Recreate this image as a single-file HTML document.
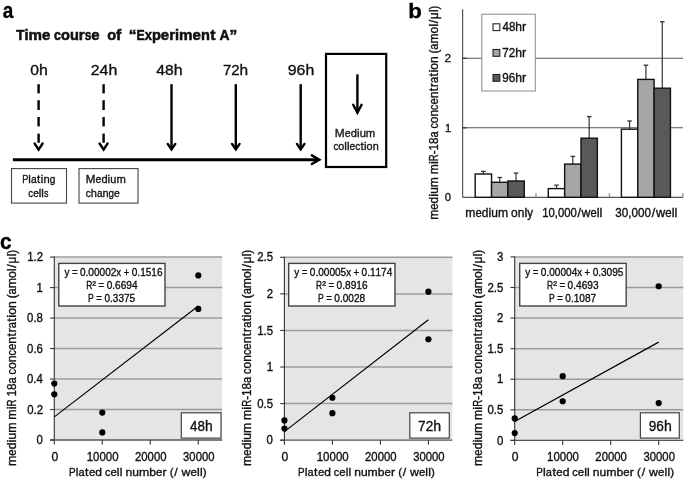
<!DOCTYPE html>
<html><head><meta charset="utf-8"><style>
html,body{margin:0;padding:0;background:#fff;}
body{width:685px;height:479px;overflow:hidden;}
svg{display:block;will-change:transform;font-family:"Liberation Sans",sans-serif;font-kerning:none;}
text{white-space:pre;stroke:#111;stroke-width:0.35px;}
</style></head><body>
<svg width="685" height="479" viewBox="0 0 685 479">
<rect width="685" height="479" fill="#fff"/>
<text y="18.20" font-size="21.50" font-weight="bold" fill="#000"><tspan x="2.75" textLength="10.53" lengthAdjust="spacingAndGlyphs">a</tspan></text>
<text y="40.00" font-size="14.80" font-weight="bold" style="stroke-width:0.55px" fill="#111"><tspan x="16.25" textLength="8.21" lengthAdjust="spacingAndGlyphs">T</tspan><tspan x="24.46" textLength="4.07" lengthAdjust="spacingAndGlyphs">i</tspan><tspan x="28.53" textLength="13.48" lengthAdjust="spacingAndGlyphs">m</tspan><tspan x="42.02" textLength="8.36" lengthAdjust="spacingAndGlyphs">e</tspan><tspan x="54.12" textLength="6.92" lengthAdjust="spacingAndGlyphs">c</tspan><tspan x="61.04" textLength="8.91" lengthAdjust="spacingAndGlyphs">o</tspan><tspan x="69.95" textLength="8.91" lengthAdjust="spacingAndGlyphs">u</tspan><tspan x="78.85" textLength="5.90" lengthAdjust="spacingAndGlyphs">r</tspan><tspan x="84.75" textLength="6.62" lengthAdjust="spacingAndGlyphs">s</tspan><tspan x="91.36" textLength="8.36" lengthAdjust="spacingAndGlyphs">e</tspan><tspan x="107.22" textLength="8.91" lengthAdjust="spacingAndGlyphs">o</tspan><tspan x="116.14" textLength="5.22" lengthAdjust="spacingAndGlyphs">f</tspan><tspan x="128.87" textLength="7.73" lengthAdjust="spacingAndGlyphs">“</tspan><tspan x="136.60" textLength="8.10" lengthAdjust="spacingAndGlyphs">E</tspan><tspan x="144.70" textLength="7.22" lengthAdjust="spacingAndGlyphs">x</tspan><tspan x="151.91" textLength="8.91" lengthAdjust="spacingAndGlyphs">p</tspan><tspan x="160.82" textLength="8.36" lengthAdjust="spacingAndGlyphs">e</tspan><tspan x="169.17" textLength="5.90" lengthAdjust="spacingAndGlyphs">r</tspan><tspan x="175.07" textLength="4.07" lengthAdjust="spacingAndGlyphs">i</tspan><tspan x="179.14" textLength="13.48" lengthAdjust="spacingAndGlyphs">m</tspan><tspan x="192.63" textLength="8.36" lengthAdjust="spacingAndGlyphs">e</tspan><tspan x="200.98" textLength="8.91" lengthAdjust="spacingAndGlyphs">n</tspan><tspan x="210.15" textLength="5.22" lengthAdjust="spacingAndGlyphs">t</tspan><tspan x="219.39" textLength="10.03" lengthAdjust="spacingAndGlyphs">A</tspan><tspan x="229.42" textLength="7.73" lengthAdjust="spacingAndGlyphs">”</tspan></text>
<text y="74.70" font-size="15.00" fill="#111"><tspan x="30.29" textLength="8.72" lengthAdjust="spacingAndGlyphs">0</tspan><tspan x="39.11" textLength="8.84" lengthAdjust="spacingAndGlyphs">h</tspan></text>
<text y="74.70" font-size="15.00" fill="#111"><tspan x="90.70" textLength="8.81" lengthAdjust="spacingAndGlyphs">2</tspan><tspan x="99.52" textLength="8.81" lengthAdjust="spacingAndGlyphs">4</tspan><tspan x="108.48" textLength="8.84" lengthAdjust="spacingAndGlyphs">h</tspan></text>
<text y="74.70" font-size="15.00" fill="#111"><tspan x="156.24" textLength="8.73" lengthAdjust="spacingAndGlyphs">4</tspan><tspan x="164.97" textLength="8.73" lengthAdjust="spacingAndGlyphs">8</tspan><tspan x="173.81" textLength="8.84" lengthAdjust="spacingAndGlyphs">h</tspan></text>
<text y="74.70" font-size="15.00" fill="#111"><tspan x="222.94" textLength="8.29" lengthAdjust="spacingAndGlyphs">7</tspan><tspan x="231.22" textLength="8.29" lengthAdjust="spacingAndGlyphs">2</tspan><tspan x="239.51" textLength="8.59" lengthAdjust="spacingAndGlyphs">h</tspan></text>
<text y="74.70" font-size="15.00" fill="#111"><tspan x="287.68" textLength="8.84" lengthAdjust="spacingAndGlyphs">9</tspan><tspan x="296.58" textLength="8.84" lengthAdjust="spacingAndGlyphs">6</tspan><tspan x="305.64" textLength="8.84" lengthAdjust="spacingAndGlyphs">h</tspan></text>
<line x1="38.60" y1="84.20" x2="38.60" y2="93.40" stroke="#000" stroke-width="2.40"/>
<line x1="38.60" y1="100.20" x2="38.60" y2="110.00" stroke="#000" stroke-width="2.40"/>
<line x1="38.60" y1="117.00" x2="38.60" y2="126.40" stroke="#000" stroke-width="2.40"/>
<line x1="38.60" y1="133.60" x2="38.60" y2="142.80" stroke="#000" stroke-width="2.40"/>
<path d="M34.60 143.50 L38.60 149.60 L42.60 143.50" stroke="#000" stroke-width="2.40" fill="none" stroke-linecap="round"/>
<line x1="103.60" y1="84.20" x2="103.60" y2="93.40" stroke="#000" stroke-width="2.40"/>
<line x1="103.60" y1="100.20" x2="103.60" y2="110.00" stroke="#000" stroke-width="2.40"/>
<line x1="103.60" y1="117.00" x2="103.60" y2="126.40" stroke="#000" stroke-width="2.40"/>
<line x1="103.60" y1="133.60" x2="103.60" y2="142.80" stroke="#000" stroke-width="2.40"/>
<path d="M99.60 143.50 L103.60 149.60 L107.60 143.50" stroke="#000" stroke-width="2.40" fill="none" stroke-linecap="round"/>
<line x1="171.50" y1="84.20" x2="171.50" y2="149.00" stroke="#000" stroke-width="2.40"/>
<path d="M167.70 143.90 L171.50 149.40 L175.30 143.90" stroke="#000" stroke-width="2.40" fill="none" stroke-linecap="round"/>
<line x1="235.80" y1="84.20" x2="235.80" y2="149.00" stroke="#000" stroke-width="2.40"/>
<path d="M232.00 143.90 L235.80 149.40 L239.60 143.90" stroke="#000" stroke-width="2.40" fill="none" stroke-linecap="round"/>
<line x1="300.70" y1="84.20" x2="300.70" y2="149.00" stroke="#000" stroke-width="2.40"/>
<path d="M296.90 143.90 L300.70 149.40 L304.50 143.90" stroke="#000" stroke-width="2.40" fill="none" stroke-linecap="round"/>
<line x1="12.90" y1="159.70" x2="318.00" y2="159.70" stroke="#000" stroke-width="2.90"/>
<path d="M311.9 155.4 L319.2 159.7 L311.9 164.0" stroke="#000" stroke-width="2.50" fill="none" stroke-linecap="round"/>
<rect x="326.00" y="53.90" width="60.20" height="113.10" fill="none" stroke="#000" stroke-width="2.20"/>
<line x1="357.40" y1="74.40" x2="357.40" y2="112.00" stroke="#000" stroke-width="2.40"/>
<path d="M353.2 104.8 L357.4 112.6 L361.6 104.8" stroke="#000" stroke-width="2.40" fill="none" stroke-linecap="round"/>
<text y="136.80" font-size="11.20" fill="#222"><tspan x="334.82" textLength="9.89" lengthAdjust="spacingAndGlyphs">M</tspan><tspan x="344.83" textLength="5.89" lengthAdjust="spacingAndGlyphs">e</tspan><tspan x="350.72" textLength="6.22" lengthAdjust="spacingAndGlyphs">d</tspan><tspan x="356.99" textLength="2.64" lengthAdjust="spacingAndGlyphs">i</tspan><tspan x="359.66" textLength="6.22" lengthAdjust="spacingAndGlyphs">u</tspan><tspan x="365.89" textLength="9.46" lengthAdjust="spacingAndGlyphs">m</tspan></text>
<text y="149.90" font-size="11.20" fill="#222"><tspan x="333.39" textLength="4.86" lengthAdjust="spacingAndGlyphs">c</tspan><tspan x="338.24" textLength="6.05" lengthAdjust="spacingAndGlyphs">o</tspan><tspan x="344.30" textLength="2.64" lengthAdjust="spacingAndGlyphs">l</tspan><tspan x="346.93" textLength="2.64" lengthAdjust="spacingAndGlyphs">l</tspan><tspan x="349.57" textLength="5.71" lengthAdjust="spacingAndGlyphs">e</tspan><tspan x="355.28" textLength="4.86" lengthAdjust="spacingAndGlyphs">c</tspan><tspan x="360.41" textLength="3.30" lengthAdjust="spacingAndGlyphs">t</tspan><tspan x="363.98" textLength="2.64" lengthAdjust="spacingAndGlyphs">i</tspan><tspan x="366.62" textLength="6.05" lengthAdjust="spacingAndGlyphs">o</tspan><tspan x="372.67" textLength="6.03" lengthAdjust="spacingAndGlyphs">n</tspan></text>
<rect x="11.50" y="168.60" width="55.00" height="34.50" fill="#fff" stroke="#444" stroke-width="1.10"/>
<rect x="79.00" y="168.60" width="59.00" height="34.50" fill="#fff" stroke="#444" stroke-width="1.10"/>
<text y="182.50" font-size="11.00" fill="#222"><tspan x="22.14" textLength="6.14" lengthAdjust="spacingAndGlyphs">P</tspan><tspan x="28.35" textLength="2.59" lengthAdjust="spacingAndGlyphs">l</tspan><tspan x="31.01" textLength="5.69" lengthAdjust="spacingAndGlyphs">a</tspan><tspan x="37.07" textLength="3.24" lengthAdjust="spacingAndGlyphs">t</tspan><tspan x="40.75" textLength="2.59" lengthAdjust="spacingAndGlyphs">i</tspan><tspan x="43.41" textLength="6.24" lengthAdjust="spacingAndGlyphs">n</tspan><tspan x="49.65" textLength="5.59" lengthAdjust="spacingAndGlyphs">g</tspan></text>
<text y="196.50" font-size="11.00" fill="#222"><tspan x="28.34" textLength="4.80" lengthAdjust="spacingAndGlyphs">c</tspan><tspan x="33.14" textLength="5.64" lengthAdjust="spacingAndGlyphs">e</tspan><tspan x="38.79" textLength="2.59" lengthAdjust="spacingAndGlyphs">l</tspan><tspan x="41.39" textLength="2.59" lengthAdjust="spacingAndGlyphs">l</tspan><tspan x="43.99" textLength="4.44" lengthAdjust="spacingAndGlyphs">s</tspan></text>
<text y="182.50" font-size="11.00" fill="#222"><tspan x="85.76" textLength="9.71" lengthAdjust="spacingAndGlyphs">M</tspan><tspan x="95.61" textLength="5.82" lengthAdjust="spacingAndGlyphs">e</tspan><tspan x="101.43" textLength="6.14" lengthAdjust="spacingAndGlyphs">d</tspan><tspan x="107.62" textLength="2.59" lengthAdjust="spacingAndGlyphs">i</tspan><tspan x="110.26" textLength="6.14" lengthAdjust="spacingAndGlyphs">u</tspan><tspan x="116.40" textLength="9.34" lengthAdjust="spacingAndGlyphs">m</tspan></text>
<text y="196.50" font-size="11.00" fill="#222"><tspan x="85.83" textLength="4.93" lengthAdjust="spacingAndGlyphs">c</tspan><tspan x="90.76" textLength="6.12" lengthAdjust="spacingAndGlyphs">h</tspan><tspan x="96.88" textLength="5.58" lengthAdjust="spacingAndGlyphs">a</tspan><tspan x="102.46" textLength="6.12" lengthAdjust="spacingAndGlyphs">n</tspan><tspan x="108.58" textLength="5.48" lengthAdjust="spacingAndGlyphs">g</tspan><tspan x="114.07" textLength="5.80" lengthAdjust="spacingAndGlyphs">e</tspan></text>
<text y="18.40" font-size="21.00" font-weight="bold" fill="#000"><tspan x="408.23" textLength="13.58" lengthAdjust="spacingAndGlyphs">b</tspan></text>
<text transform="translate(437.90 219.00) rotate(-90)" y="0.00" font-size="12.20" fill="#111"><tspan x="-0.81" textLength="10.12" lengthAdjust="spacingAndGlyphs">m</tspan><tspan x="9.31" textLength="6.30" lengthAdjust="spacingAndGlyphs">e</tspan><tspan x="15.62" textLength="6.66" lengthAdjust="spacingAndGlyphs">d</tspan><tspan x="22.29" textLength="2.87" lengthAdjust="spacingAndGlyphs">i</tspan><tspan x="25.18" textLength="6.66" lengthAdjust="spacingAndGlyphs">u</tspan><tspan x="31.84" textLength="10.12" lengthAdjust="spacingAndGlyphs">m</tspan><tspan x="44.83" textLength="10.12" lengthAdjust="spacingAndGlyphs">m</tspan><tspan x="54.97" textLength="2.87" lengthAdjust="spacingAndGlyphs">i</tspan><tspan x="57.86" textLength="6.88" lengthAdjust="spacingAndGlyphs">R</tspan><tspan x="64.74" textLength="3.88" lengthAdjust="spacingAndGlyphs">-</tspan><tspan x="68.61" textLength="6.42" lengthAdjust="spacingAndGlyphs">1</tspan><tspan x="75.04" textLength="6.42" lengthAdjust="spacingAndGlyphs">8</tspan><tspan x="81.46" textLength="6.07" lengthAdjust="spacingAndGlyphs">a</tspan><tspan x="90.39" textLength="5.36" lengthAdjust="spacingAndGlyphs">c</tspan><tspan x="95.75" textLength="6.68" lengthAdjust="spacingAndGlyphs">o</tspan><tspan x="102.43" textLength="6.66" lengthAdjust="spacingAndGlyphs">n</tspan><tspan x="109.09" textLength="5.36" lengthAdjust="spacingAndGlyphs">c</tspan><tspan x="114.45" textLength="6.30" lengthAdjust="spacingAndGlyphs">e</tspan><tspan x="120.75" textLength="6.66" lengthAdjust="spacingAndGlyphs">n</tspan><tspan x="127.73" textLength="3.59" lengthAdjust="spacingAndGlyphs">t</tspan><tspan x="131.71" textLength="4.31" lengthAdjust="spacingAndGlyphs">r</tspan><tspan x="136.07" textLength="6.07" lengthAdjust="spacingAndGlyphs">a</tspan><tspan x="142.46" textLength="3.59" lengthAdjust="spacingAndGlyphs">t</tspan><tspan x="146.40" textLength="2.87" lengthAdjust="spacingAndGlyphs">i</tspan><tspan x="149.29" textLength="6.68" lengthAdjust="spacingAndGlyphs">o</tspan><tspan x="155.97" textLength="6.66" lengthAdjust="spacingAndGlyphs">n</tspan><tspan x="165.49" textLength="3.84" lengthAdjust="spacingAndGlyphs">(</tspan><tspan x="169.33" textLength="6.07" lengthAdjust="spacingAndGlyphs">a</tspan><tspan x="175.40" textLength="10.12" lengthAdjust="spacingAndGlyphs">m</tspan><tspan x="185.53" textLength="6.68" lengthAdjust="spacingAndGlyphs">o</tspan><tspan x="192.22" textLength="2.87" lengthAdjust="spacingAndGlyphs">l</tspan><tspan x="195.77" textLength="3.59" lengthAdjust="spacingAndGlyphs">/</tspan><tspan x="200.01" textLength="6.66" lengthAdjust="spacingAndGlyphs">μ</tspan><tspan x="206.68" textLength="2.87" lengthAdjust="spacingAndGlyphs">l</tspan><tspan x="209.57" textLength="3.84" lengthAdjust="spacingAndGlyphs">)</tspan></text>
<line x1="462.60" y1="127.80" x2="683.00" y2="127.80" stroke="#555" stroke-width="1.10"/>
<line x1="462.60" y1="58.30" x2="683.00" y2="58.30" stroke="#555" stroke-width="1.10"/>
<line x1="462.60" y1="9.30" x2="462.60" y2="197.30" stroke="#555" stroke-width="1.20"/>
<line x1="462.60" y1="197.30" x2="683.00" y2="197.30" stroke="#555" stroke-width="1.20"/>
<line x1="536.00" y1="193.30" x2="536.00" y2="197.30" stroke="#888" stroke-width="1.30"/>
<line x1="609.40" y1="193.30" x2="609.40" y2="197.30" stroke="#888" stroke-width="1.30"/>
<line x1="682.90" y1="193.30" x2="682.90" y2="197.30" stroke="#888" stroke-width="1.30"/>
<line x1="462.60" y1="127.80" x2="466.80" y2="127.80" stroke="#333" stroke-width="1.20"/>
<line x1="462.60" y1="58.30" x2="466.80" y2="58.30" stroke="#333" stroke-width="1.20"/>
<text y="201.30" font-size="11.50" fill="#222"><tspan x="444.76" textLength="6.28" lengthAdjust="spacingAndGlyphs">0</tspan></text>
<text y="131.80" font-size="11.50" fill="#222"><tspan x="444.95" textLength="6.19" lengthAdjust="spacingAndGlyphs">1</tspan></text>
<text y="62.30" font-size="11.50" fill="#222"><tspan x="444.60" textLength="6.59" lengthAdjust="spacingAndGlyphs">2</tspan></text>
<line x1="483.38" y1="171.40" x2="483.38" y2="174.00" stroke="#333" stroke-width="1.20"/>
<line x1="481.07" y1="171.40" x2="485.68" y2="171.40" stroke="#333" stroke-width="1.30"/>
<line x1="499.73" y1="177.50" x2="499.73" y2="182.30" stroke="#333" stroke-width="1.20"/>
<line x1="497.43" y1="177.50" x2="502.03" y2="177.50" stroke="#333" stroke-width="1.30"/>
<line x1="516.07" y1="173.10" x2="516.07" y2="181.00" stroke="#333" stroke-width="1.20"/>
<line x1="513.77" y1="173.10" x2="518.37" y2="173.10" stroke="#333" stroke-width="1.30"/>
<rect x="475.20" y="174.00" width="16.35" height="23.30" fill="#ffffff" stroke="#111" stroke-width="1.40"/>
<rect x="491.55" y="182.30" width="16.35" height="15.00" fill="#a6a6a6" stroke="#111" stroke-width="1.40"/>
<rect x="507.90" y="181.00" width="16.35" height="16.30" fill="#595959" stroke="#111" stroke-width="1.40"/>
<line x1="556.47" y1="185.20" x2="556.47" y2="188.60" stroke="#333" stroke-width="1.20"/>
<line x1="554.17" y1="185.20" x2="558.77" y2="185.20" stroke="#333" stroke-width="1.30"/>
<line x1="572.82" y1="156.40" x2="572.82" y2="164.10" stroke="#333" stroke-width="1.20"/>
<line x1="570.52" y1="156.40" x2="575.12" y2="156.40" stroke="#333" stroke-width="1.30"/>
<line x1="589.17" y1="116.60" x2="589.17" y2="138.20" stroke="#333" stroke-width="1.20"/>
<line x1="586.88" y1="116.60" x2="591.47" y2="116.60" stroke="#333" stroke-width="1.30"/>
<rect x="548.30" y="188.60" width="16.35" height="8.70" fill="#ffffff" stroke="#111" stroke-width="1.40"/>
<rect x="564.65" y="164.10" width="16.35" height="33.20" fill="#a6a6a6" stroke="#111" stroke-width="1.40"/>
<rect x="581.00" y="138.20" width="16.35" height="59.10" fill="#595959" stroke="#111" stroke-width="1.40"/>
<line x1="629.57" y1="121.00" x2="629.57" y2="129.20" stroke="#333" stroke-width="1.20"/>
<line x1="627.27" y1="121.00" x2="631.87" y2="121.00" stroke="#333" stroke-width="1.30"/>
<line x1="645.92" y1="65.20" x2="645.92" y2="79.40" stroke="#333" stroke-width="1.20"/>
<line x1="643.62" y1="65.20" x2="648.22" y2="65.20" stroke="#333" stroke-width="1.30"/>
<line x1="662.27" y1="21.80" x2="662.27" y2="88.20" stroke="#333" stroke-width="1.20"/>
<line x1="659.98" y1="21.80" x2="664.57" y2="21.80" stroke="#333" stroke-width="1.30"/>
<rect x="621.40" y="129.20" width="16.35" height="68.10" fill="#ffffff" stroke="#111" stroke-width="1.40"/>
<rect x="637.75" y="79.40" width="16.35" height="117.90" fill="#a6a6a6" stroke="#111" stroke-width="1.40"/>
<rect x="654.10" y="88.20" width="16.35" height="109.10" fill="#595959" stroke="#111" stroke-width="1.40"/>
<rect x="481.80" y="14.20" width="53.50" height="76.80" fill="#fff" stroke="#8a8a8a" stroke-width="1.00"/>
<rect x="493.00" y="23.80" width="6.80" height="6.80" fill="#ffffff" stroke="#222" stroke-width="1.10"/>
<text y="31.20" font-size="12.00" fill="#111"><tspan x="502.54" textLength="6.41" lengthAdjust="spacingAndGlyphs">4</tspan><tspan x="508.95" textLength="6.41" lengthAdjust="spacingAndGlyphs">8</tspan><tspan x="515.36" textLength="6.65" lengthAdjust="spacingAndGlyphs">h</tspan><tspan x="522.10" textLength="4.24" lengthAdjust="spacingAndGlyphs">r</tspan></text>
<rect x="493.00" y="49.50" width="6.80" height="6.80" fill="#a6a6a6" stroke="#222" stroke-width="1.10"/>
<text y="56.60" font-size="12.00" fill="#111"><tspan x="502.20" textLength="6.50" lengthAdjust="spacingAndGlyphs">7</tspan><tspan x="508.70" textLength="6.50" lengthAdjust="spacingAndGlyphs">2</tspan><tspan x="515.21" textLength="6.74" lengthAdjust="spacingAndGlyphs">h</tspan><tspan x="522.07" textLength="4.24" lengthAdjust="spacingAndGlyphs">r</tspan></text>
<rect x="493.00" y="74.50" width="6.80" height="6.80" fill="#595959" stroke="#222" stroke-width="1.10"/>
<text y="82.00" font-size="12.00" fill="#111"><tspan x="502.25" textLength="6.49" lengthAdjust="spacingAndGlyphs">9</tspan><tspan x="508.74" textLength="6.49" lengthAdjust="spacingAndGlyphs">6</tspan><tspan x="515.23" textLength="6.73" lengthAdjust="spacingAndGlyphs">h</tspan><tspan x="522.07" textLength="4.24" lengthAdjust="spacingAndGlyphs">r</tspan></text>
<text y="217.30" font-size="12.00" fill="#111"><tspan x="465.29" textLength="10.14" lengthAdjust="spacingAndGlyphs">m</tspan><tspan x="475.43" textLength="6.32" lengthAdjust="spacingAndGlyphs">e</tspan><tspan x="481.75" textLength="6.67" lengthAdjust="spacingAndGlyphs">d</tspan><tspan x="488.46" textLength="2.83" lengthAdjust="spacingAndGlyphs">i</tspan><tspan x="491.33" textLength="6.67" lengthAdjust="spacingAndGlyphs">u</tspan><tspan x="498.00" textLength="10.14" lengthAdjust="spacingAndGlyphs">m</tspan><tspan x="511.00" textLength="6.69" lengthAdjust="spacingAndGlyphs">o</tspan><tspan x="517.70" textLength="6.67" lengthAdjust="spacingAndGlyphs">n</tspan><tspan x="524.41" textLength="2.83" lengthAdjust="spacingAndGlyphs">l</tspan><tspan x="527.28" textLength="5.74" lengthAdjust="spacingAndGlyphs">y</tspan></text>
<text y="217.30" font-size="12.00" fill="#111"><tspan x="542.14" textLength="6.32" lengthAdjust="spacingAndGlyphs">1</tspan><tspan x="548.45" textLength="6.32" lengthAdjust="spacingAndGlyphs">0</tspan><tspan x="554.77" textLength="3.11" lengthAdjust="spacingAndGlyphs">,</tspan><tspan x="557.88" textLength="6.32" lengthAdjust="spacingAndGlyphs">0</tspan><tspan x="564.19" textLength="6.32" lengthAdjust="spacingAndGlyphs">0</tspan><tspan x="570.51" textLength="6.32" lengthAdjust="spacingAndGlyphs">0</tspan><tspan x="577.46" textLength="3.53" lengthAdjust="spacingAndGlyphs">/</tspan><tspan x="581.63" textLength="8.91" lengthAdjust="spacingAndGlyphs">w</tspan><tspan x="590.54" textLength="6.20" lengthAdjust="spacingAndGlyphs">e</tspan><tspan x="596.76" textLength="2.83" lengthAdjust="spacingAndGlyphs">l</tspan><tspan x="599.62" textLength="2.83" lengthAdjust="spacingAndGlyphs">l</tspan></text>
<text y="217.30" font-size="12.00" fill="#111"><tspan x="615.35" textLength="6.50" lengthAdjust="spacingAndGlyphs">3</tspan><tspan x="621.86" textLength="6.50" lengthAdjust="spacingAndGlyphs">0</tspan><tspan x="628.36" textLength="3.20" lengthAdjust="spacingAndGlyphs">,</tspan><tspan x="631.57" textLength="6.50" lengthAdjust="spacingAndGlyphs">0</tspan><tspan x="638.07" textLength="6.50" lengthAdjust="spacingAndGlyphs">0</tspan><tspan x="644.58" textLength="6.50" lengthAdjust="spacingAndGlyphs">0</tspan><tspan x="651.79" textLength="3.53" lengthAdjust="spacingAndGlyphs">/</tspan><tspan x="656.04" textLength="9.17" lengthAdjust="spacingAndGlyphs">w</tspan><tspan x="665.21" textLength="6.39" lengthAdjust="spacingAndGlyphs">e</tspan><tspan x="671.66" textLength="2.83" lengthAdjust="spacingAndGlyphs">l</tspan><tspan x="674.60" textLength="2.83" lengthAdjust="spacingAndGlyphs">l</tspan></text>
<text y="249.00" font-size="22.00" font-weight="bold" fill="#000"><tspan x="-0.02" textLength="11.63" lengthAdjust="spacingAndGlyphs">c</tspan></text>
<rect x="54.30" y="257.10" width="167.90" height="182.90" fill="#e5e5e5" stroke="none" stroke-width="1.00"/>
<line x1="54.30" y1="409.52" x2="222.20" y2="409.52" stroke="#9c9c9c" stroke-width="1.50"/>
<line x1="54.30" y1="379.03" x2="222.20" y2="379.03" stroke="#9c9c9c" stroke-width="1.50"/>
<line x1="54.30" y1="348.55" x2="222.20" y2="348.55" stroke="#9c9c9c" stroke-width="1.50"/>
<line x1="54.30" y1="318.07" x2="222.20" y2="318.07" stroke="#9c9c9c" stroke-width="1.50"/>
<line x1="54.30" y1="287.58" x2="222.20" y2="287.58" stroke="#9c9c9c" stroke-width="1.50"/>
<line x1="54.30" y1="257.10" x2="222.20" y2="257.10" stroke="#9c9c9c" stroke-width="1.50"/>
<line x1="54.30" y1="256.60" x2="54.30" y2="444.50" stroke="#333" stroke-width="1.10"/>
<line x1="50.10" y1="440.00" x2="222.20" y2="440.00" stroke="#555" stroke-width="1.30"/>
<line x1="50.10" y1="440.00" x2="54.30" y2="440.00" stroke="#333" stroke-width="1.10"/>
<line x1="50.10" y1="409.52" x2="54.30" y2="409.52" stroke="#333" stroke-width="1.10"/>
<line x1="50.10" y1="379.03" x2="54.30" y2="379.03" stroke="#333" stroke-width="1.10"/>
<line x1="50.10" y1="348.55" x2="54.30" y2="348.55" stroke="#333" stroke-width="1.10"/>
<line x1="50.10" y1="318.07" x2="54.30" y2="318.07" stroke="#333" stroke-width="1.10"/>
<line x1="50.10" y1="287.58" x2="54.30" y2="287.58" stroke="#333" stroke-width="1.10"/>
<line x1="50.10" y1="257.10" x2="54.30" y2="257.10" stroke="#333" stroke-width="1.10"/>
<line x1="102.30" y1="440.00" x2="102.30" y2="444.50" stroke="#333" stroke-width="1.10"/>
<line x1="150.30" y1="440.00" x2="150.30" y2="444.50" stroke="#333" stroke-width="1.10"/>
<line x1="198.30" y1="440.00" x2="198.30" y2="444.50" stroke="#333" stroke-width="1.10"/>
<text y="444.10" font-size="12.00" fill="#111"><tspan x="36.51" textLength="6.34" lengthAdjust="spacingAndGlyphs">0</tspan></text>
<text y="413.62" font-size="12.00" fill="#111"><tspan x="27.13" textLength="6.34" lengthAdjust="spacingAndGlyphs">0</tspan><tspan x="33.47" textLength="3.16" lengthAdjust="spacingAndGlyphs">.</tspan><tspan x="36.63" textLength="6.34" lengthAdjust="spacingAndGlyphs">2</tspan></text>
<text y="383.13" font-size="12.00" fill="#111"><tspan x="26.89" textLength="6.34" lengthAdjust="spacingAndGlyphs">0</tspan><tspan x="33.23" textLength="3.16" lengthAdjust="spacingAndGlyphs">.</tspan><tspan x="36.39" textLength="6.34" lengthAdjust="spacingAndGlyphs">4</tspan></text>
<text y="352.65" font-size="12.00" fill="#111"><tspan x="27.05" textLength="6.34" lengthAdjust="spacingAndGlyphs">0</tspan><tspan x="33.40" textLength="3.16" lengthAdjust="spacingAndGlyphs">.</tspan><tspan x="36.56" textLength="6.34" lengthAdjust="spacingAndGlyphs">6</tspan></text>
<text y="322.17" font-size="12.00" fill="#111"><tspan x="27.05" textLength="6.34" lengthAdjust="spacingAndGlyphs">0</tspan><tspan x="33.39" textLength="3.16" lengthAdjust="spacingAndGlyphs">.</tspan><tspan x="36.55" textLength="6.34" lengthAdjust="spacingAndGlyphs">8</tspan></text>
<text y="291.68" font-size="12.00" fill="#111"><tspan x="36.62" textLength="6.34" lengthAdjust="spacingAndGlyphs">1</tspan></text>
<text y="261.20" font-size="12.00" fill="#111"><tspan x="27.13" textLength="6.34" lengthAdjust="spacingAndGlyphs">1</tspan><tspan x="33.47" textLength="3.16" lengthAdjust="spacingAndGlyphs">.</tspan><tspan x="36.63" textLength="6.34" lengthAdjust="spacingAndGlyphs">2</tspan></text>
<text y="460.90" font-size="12.00" fill="#111"><tspan x="51.43" textLength="6.75" lengthAdjust="spacingAndGlyphs">0</tspan></text>
<text y="460.90" font-size="12.00" fill="#111"><tspan x="86.63" textLength="6.38" lengthAdjust="spacingAndGlyphs">1</tspan><tspan x="93.01" textLength="6.38" lengthAdjust="spacingAndGlyphs">0</tspan><tspan x="99.39" textLength="6.38" lengthAdjust="spacingAndGlyphs">0</tspan><tspan x="105.78" textLength="6.38" lengthAdjust="spacingAndGlyphs">0</tspan><tspan x="112.16" textLength="6.38" lengthAdjust="spacingAndGlyphs">0</tspan></text>
<text y="460.90" font-size="12.00" fill="#111"><tspan x="134.93" textLength="6.32" lengthAdjust="spacingAndGlyphs">2</tspan><tspan x="141.25" textLength="6.32" lengthAdjust="spacingAndGlyphs">0</tspan><tspan x="147.57" textLength="6.32" lengthAdjust="spacingAndGlyphs">0</tspan><tspan x="153.90" textLength="6.32" lengthAdjust="spacingAndGlyphs">0</tspan><tspan x="160.22" textLength="6.32" lengthAdjust="spacingAndGlyphs">0</tspan></text>
<text y="460.90" font-size="12.00" fill="#111"><tspan x="183.07" textLength="6.29" lengthAdjust="spacingAndGlyphs">3</tspan><tspan x="189.36" textLength="6.29" lengthAdjust="spacingAndGlyphs">0</tspan><tspan x="195.66" textLength="6.29" lengthAdjust="spacingAndGlyphs">0</tspan><tspan x="201.95" textLength="6.29" lengthAdjust="spacingAndGlyphs">0</tspan><tspan x="208.25" textLength="6.29" lengthAdjust="spacingAndGlyphs">0</tspan></text>
<text y="475.50" font-size="11.60" fill="#111"><tspan x="68.99" textLength="6.62" lengthAdjust="spacingAndGlyphs">P</tspan><tspan x="75.71" textLength="2.73" lengthAdjust="spacingAndGlyphs">l</tspan><tspan x="78.54" textLength="6.14" lengthAdjust="spacingAndGlyphs">a</tspan><tspan x="85.12" textLength="3.42" lengthAdjust="spacingAndGlyphs">t</tspan><tspan x="88.97" textLength="6.37" lengthAdjust="spacingAndGlyphs">e</tspan><tspan x="95.35" textLength="6.73" lengthAdjust="spacingAndGlyphs">d</tspan><tspan x="104.97" textLength="5.42" lengthAdjust="spacingAndGlyphs">c</tspan><tspan x="110.39" textLength="6.37" lengthAdjust="spacingAndGlyphs">e</tspan><tspan x="116.87" textLength="2.73" lengthAdjust="spacingAndGlyphs">l</tspan><tspan x="119.81" textLength="2.73" lengthAdjust="spacingAndGlyphs">l</tspan><tspan x="125.54" textLength="6.73" lengthAdjust="spacingAndGlyphs">n</tspan><tspan x="132.27" textLength="6.73" lengthAdjust="spacingAndGlyphs">u</tspan><tspan x="139.00" textLength="10.23" lengthAdjust="spacingAndGlyphs">m</tspan><tspan x="149.23" textLength="6.73" lengthAdjust="spacingAndGlyphs">b</tspan><tspan x="155.96" textLength="6.37" lengthAdjust="spacingAndGlyphs">e</tspan><tspan x="162.52" textLength="4.09" lengthAdjust="spacingAndGlyphs">r</tspan><tspan x="169.70" textLength="3.88" lengthAdjust="spacingAndGlyphs">(</tspan><tspan x="174.35" textLength="3.42" lengthAdjust="spacingAndGlyphs">/</tspan><tspan x="181.57" textLength="8.88" lengthAdjust="spacingAndGlyphs">w</tspan><tspan x="190.59" textLength="6.37" lengthAdjust="spacingAndGlyphs">e</tspan><tspan x="197.06" textLength="2.73" lengthAdjust="spacingAndGlyphs">l</tspan><tspan x="200.00" textLength="2.73" lengthAdjust="spacingAndGlyphs">l</tspan><tspan x="202.84" textLength="3.88" lengthAdjust="spacingAndGlyphs">)</tspan></text>
<text transform="translate(16.00 465.10) rotate(-90)" y="0.00" font-size="12.20" fill="#111"><tspan x="-0.82" textLength="10.26" lengthAdjust="spacingAndGlyphs">m</tspan><tspan x="9.44" textLength="6.39" lengthAdjust="spacingAndGlyphs">e</tspan><tspan x="15.83" textLength="6.75" lengthAdjust="spacingAndGlyphs">d</tspan><tspan x="22.62" textLength="2.87" lengthAdjust="spacingAndGlyphs">i</tspan><tspan x="25.53" textLength="6.75" lengthAdjust="spacingAndGlyphs">u</tspan><tspan x="32.28" textLength="10.26" lengthAdjust="spacingAndGlyphs">m</tspan><tspan x="45.44" textLength="10.26" lengthAdjust="spacingAndGlyphs">m</tspan><tspan x="55.74" textLength="2.87" lengthAdjust="spacingAndGlyphs">i</tspan><tspan x="58.65" textLength="6.97" lengthAdjust="spacingAndGlyphs">R</tspan><tspan x="68.53" textLength="6.51" lengthAdjust="spacingAndGlyphs">1</tspan><tspan x="75.04" textLength="6.51" lengthAdjust="spacingAndGlyphs">8</tspan><tspan x="81.55" textLength="6.15" lengthAdjust="spacingAndGlyphs">a</tspan><tspan x="90.61" textLength="5.43" lengthAdjust="spacingAndGlyphs">c</tspan><tspan x="96.04" textLength="6.77" lengthAdjust="spacingAndGlyphs">o</tspan><tspan x="102.81" textLength="6.75" lengthAdjust="spacingAndGlyphs">n</tspan><tspan x="109.56" textLength="5.43" lengthAdjust="spacingAndGlyphs">c</tspan><tspan x="114.99" textLength="6.39" lengthAdjust="spacingAndGlyphs">e</tspan><tspan x="121.38" textLength="6.75" lengthAdjust="spacingAndGlyphs">n</tspan><tspan x="128.49" textLength="3.59" lengthAdjust="spacingAndGlyphs">t</tspan><tspan x="132.52" textLength="4.31" lengthAdjust="spacingAndGlyphs">r</tspan><tspan x="136.91" textLength="6.15" lengthAdjust="spacingAndGlyphs">a</tspan><tspan x="143.42" textLength="3.59" lengthAdjust="spacingAndGlyphs">t</tspan><tspan x="147.41" textLength="2.87" lengthAdjust="spacingAndGlyphs">i</tspan><tspan x="150.32" textLength="6.77" lengthAdjust="spacingAndGlyphs">o</tspan><tspan x="157.09" textLength="6.75" lengthAdjust="spacingAndGlyphs">n</tspan><tspan x="166.74" textLength="3.89" lengthAdjust="spacingAndGlyphs">(</tspan><tspan x="170.64" textLength="6.15" lengthAdjust="spacingAndGlyphs">a</tspan><tspan x="176.79" textLength="10.26" lengthAdjust="spacingAndGlyphs">m</tspan><tspan x="187.05" textLength="6.77" lengthAdjust="spacingAndGlyphs">o</tspan><tspan x="193.86" textLength="2.87" lengthAdjust="spacingAndGlyphs">l</tspan><tspan x="197.46" textLength="3.59" lengthAdjust="spacingAndGlyphs">/</tspan><tspan x="201.73" textLength="6.75" lengthAdjust="spacingAndGlyphs">μ</tspan><tspan x="208.52" textLength="2.87" lengthAdjust="spacingAndGlyphs">l</tspan><tspan x="211.43" textLength="3.89" lengthAdjust="spacingAndGlyphs">)</tspan></text>
<line x1="54.30" y1="416.89" x2="198.30" y2="306.03" stroke="#000" stroke-width="1.20"/>
<circle cx="54.30" cy="383.61" r="3.10" fill="#000"/>
<circle cx="54.30" cy="394.27" r="3.10" fill="#000"/>
<circle cx="102.30" cy="412.56" r="3.10" fill="#000"/>
<circle cx="102.30" cy="432.38" r="3.10" fill="#000"/>
<circle cx="198.30" cy="275.39" r="3.10" fill="#000"/>
<circle cx="198.30" cy="308.92" r="3.10" fill="#000"/>
<rect x="58.80" y="263.40" width="106.20" height="42.60" fill="#fff" stroke="#444" stroke-width="1.40"/>
<text y="275.90" font-size="10.80" fill="#111"><tspan x="64.38" textLength="5.00" lengthAdjust="spacingAndGlyphs">y</tspan><tspan x="71.88" textLength="5.60" lengthAdjust="spacingAndGlyphs">=</tspan><tspan x="79.97" textLength="5.60" lengthAdjust="spacingAndGlyphs">0</tspan><tspan x="85.57" textLength="2.79" lengthAdjust="spacingAndGlyphs">.</tspan><tspan x="88.36" textLength="5.60" lengthAdjust="spacingAndGlyphs">0</tspan><tspan x="93.96" textLength="5.60" lengthAdjust="spacingAndGlyphs">0</tspan><tspan x="99.57" textLength="5.60" lengthAdjust="spacingAndGlyphs">0</tspan><tspan x="105.17" textLength="5.60" lengthAdjust="spacingAndGlyphs">0</tspan><tspan x="110.77" textLength="5.60" lengthAdjust="spacingAndGlyphs">2</tspan><tspan x="116.37" textLength="4.79" lengthAdjust="spacingAndGlyphs">x</tspan><tspan x="123.65" textLength="5.60" lengthAdjust="spacingAndGlyphs">+</tspan><tspan x="131.75" textLength="5.60" lengthAdjust="spacingAndGlyphs">0</tspan><tspan x="137.35" textLength="2.79" lengthAdjust="spacingAndGlyphs">.</tspan><tspan x="140.14" textLength="5.60" lengthAdjust="spacingAndGlyphs">1</tspan><tspan x="145.74" textLength="5.60" lengthAdjust="spacingAndGlyphs">5</tspan><tspan x="151.34" textLength="5.60" lengthAdjust="spacingAndGlyphs">1</tspan><tspan x="156.94" textLength="5.60" lengthAdjust="spacingAndGlyphs">6</tspan></text>
<text y="288.70" font-size="10.80" fill="#111"><tspan x="86.18" textLength="6.08" lengthAdjust="spacingAndGlyphs">R</tspan><tspan x="92.23" textLength="3.79" lengthAdjust="spacingAndGlyphs">²</tspan><tspan x="98.52" textLength="5.61" lengthAdjust="spacingAndGlyphs">=</tspan><tspan x="106.64" textLength="5.61" lengthAdjust="spacingAndGlyphs">0</tspan><tspan x="112.25" textLength="2.80" lengthAdjust="spacingAndGlyphs">.</tspan><tspan x="115.04" textLength="5.61" lengthAdjust="spacingAndGlyphs">6</tspan><tspan x="120.66" textLength="5.61" lengthAdjust="spacingAndGlyphs">6</tspan><tspan x="126.27" textLength="5.61" lengthAdjust="spacingAndGlyphs">9</tspan><tspan x="131.88" textLength="5.61" lengthAdjust="spacingAndGlyphs">4</tspan></text>
<text y="302.00" font-size="10.80" fill="#111"><tspan x="88.10" textLength="5.71" lengthAdjust="spacingAndGlyphs">P</tspan><tspan x="96.31" textLength="5.60" lengthAdjust="spacingAndGlyphs">=</tspan><tspan x="104.41" textLength="5.60" lengthAdjust="spacingAndGlyphs">0</tspan><tspan x="110.02" textLength="2.79" lengthAdjust="spacingAndGlyphs">.</tspan><tspan x="112.81" textLength="5.60" lengthAdjust="spacingAndGlyphs">3</tspan><tspan x="118.41" textLength="5.60" lengthAdjust="spacingAndGlyphs">3</tspan><tspan x="124.02" textLength="5.60" lengthAdjust="spacingAndGlyphs">7</tspan><tspan x="129.62" textLength="5.60" lengthAdjust="spacingAndGlyphs">5</tspan></text>
<rect x="181.30" y="412.80" width="39.70" height="25.30" fill="#fff" stroke="#444" stroke-width="1.20"/>
<text y="430.50" font-size="14.30" fill="#111"><tspan x="189.99" textLength="7.45" lengthAdjust="spacingAndGlyphs">4</tspan><tspan x="197.44" textLength="7.45" lengthAdjust="spacingAndGlyphs">8</tspan><tspan x="204.88" textLength="7.72" lengthAdjust="spacingAndGlyphs">h</tspan></text>
<rect x="284.40" y="257.30" width="168.00" height="182.90" fill="#e5e5e5" stroke="none" stroke-width="1.00"/>
<line x1="284.40" y1="403.62" x2="452.40" y2="403.62" stroke="#9c9c9c" stroke-width="1.50"/>
<line x1="284.40" y1="367.04" x2="452.40" y2="367.04" stroke="#9c9c9c" stroke-width="1.50"/>
<line x1="284.40" y1="330.46" x2="452.40" y2="330.46" stroke="#9c9c9c" stroke-width="1.50"/>
<line x1="284.40" y1="293.88" x2="452.40" y2="293.88" stroke="#9c9c9c" stroke-width="1.50"/>
<line x1="284.40" y1="257.30" x2="452.40" y2="257.30" stroke="#9c9c9c" stroke-width="1.50"/>
<line x1="284.40" y1="256.80" x2="284.40" y2="444.70" stroke="#333" stroke-width="1.10"/>
<line x1="280.20" y1="440.20" x2="452.40" y2="440.20" stroke="#555" stroke-width="1.30"/>
<line x1="280.20" y1="440.20" x2="284.40" y2="440.20" stroke="#333" stroke-width="1.10"/>
<line x1="280.20" y1="403.62" x2="284.40" y2="403.62" stroke="#333" stroke-width="1.10"/>
<line x1="280.20" y1="367.04" x2="284.40" y2="367.04" stroke="#333" stroke-width="1.10"/>
<line x1="280.20" y1="330.46" x2="284.40" y2="330.46" stroke="#333" stroke-width="1.10"/>
<line x1="280.20" y1="293.88" x2="284.40" y2="293.88" stroke="#333" stroke-width="1.10"/>
<line x1="280.20" y1="257.30" x2="284.40" y2="257.30" stroke="#333" stroke-width="1.10"/>
<line x1="332.40" y1="440.20" x2="332.40" y2="444.70" stroke="#333" stroke-width="1.10"/>
<line x1="380.40" y1="440.20" x2="380.40" y2="444.70" stroke="#333" stroke-width="1.10"/>
<line x1="428.40" y1="440.20" x2="428.40" y2="444.70" stroke="#333" stroke-width="1.10"/>
<text y="444.30" font-size="12.00" fill="#111"><tspan x="266.61" textLength="6.34" lengthAdjust="spacingAndGlyphs">0</tspan></text>
<text y="407.72" font-size="12.00" fill="#111"><tspan x="257.13" textLength="6.34" lengthAdjust="spacingAndGlyphs">0</tspan><tspan x="263.48" textLength="3.16" lengthAdjust="spacingAndGlyphs">.</tspan><tspan x="266.63" textLength="6.34" lengthAdjust="spacingAndGlyphs">5</tspan></text>
<text y="371.14" font-size="12.00" fill="#111"><tspan x="266.72" textLength="6.34" lengthAdjust="spacingAndGlyphs">1</tspan></text>
<text y="334.56" font-size="12.00" fill="#111"><tspan x="257.13" textLength="6.34" lengthAdjust="spacingAndGlyphs">1</tspan><tspan x="263.47" textLength="3.16" lengthAdjust="spacingAndGlyphs">.</tspan><tspan x="266.63" textLength="6.34" lengthAdjust="spacingAndGlyphs">5</tspan></text>
<text y="297.98" font-size="12.00" fill="#111"><tspan x="266.73" textLength="6.34" lengthAdjust="spacingAndGlyphs">2</tspan></text>
<text y="261.40" font-size="12.00" fill="#111"><tspan x="257.13" textLength="6.34" lengthAdjust="spacingAndGlyphs">2</tspan><tspan x="263.47" textLength="3.16" lengthAdjust="spacingAndGlyphs">.</tspan><tspan x="266.63" textLength="6.34" lengthAdjust="spacingAndGlyphs">5</tspan></text>
<text y="460.90" font-size="12.00" fill="#111"><tspan x="281.53" textLength="6.75" lengthAdjust="spacingAndGlyphs">0</tspan></text>
<text y="460.90" font-size="12.00" fill="#111"><tspan x="316.73" textLength="6.38" lengthAdjust="spacingAndGlyphs">1</tspan><tspan x="323.11" textLength="6.38" lengthAdjust="spacingAndGlyphs">0</tspan><tspan x="329.49" textLength="6.38" lengthAdjust="spacingAndGlyphs">0</tspan><tspan x="335.88" textLength="6.38" lengthAdjust="spacingAndGlyphs">0</tspan><tspan x="342.26" textLength="6.38" lengthAdjust="spacingAndGlyphs">0</tspan></text>
<text y="460.90" font-size="12.00" fill="#111"><tspan x="365.03" textLength="6.32" lengthAdjust="spacingAndGlyphs">2</tspan><tspan x="371.35" textLength="6.32" lengthAdjust="spacingAndGlyphs">0</tspan><tspan x="377.67" textLength="6.32" lengthAdjust="spacingAndGlyphs">0</tspan><tspan x="384.00" textLength="6.32" lengthAdjust="spacingAndGlyphs">0</tspan><tspan x="390.32" textLength="6.32" lengthAdjust="spacingAndGlyphs">0</tspan></text>
<text y="460.90" font-size="12.00" fill="#111"><tspan x="413.17" textLength="6.29" lengthAdjust="spacingAndGlyphs">3</tspan><tspan x="419.46" textLength="6.29" lengthAdjust="spacingAndGlyphs">0</tspan><tspan x="425.76" textLength="6.29" lengthAdjust="spacingAndGlyphs">0</tspan><tspan x="432.05" textLength="6.29" lengthAdjust="spacingAndGlyphs">0</tspan><tspan x="438.35" textLength="6.29" lengthAdjust="spacingAndGlyphs">0</tspan></text>
<text y="475.50" font-size="11.60" fill="#111"><tspan x="298.09" textLength="6.57" lengthAdjust="spacingAndGlyphs">P</tspan><tspan x="304.76" textLength="2.73" lengthAdjust="spacingAndGlyphs">l</tspan><tspan x="307.59" textLength="6.10" lengthAdjust="spacingAndGlyphs">a</tspan><tspan x="314.11" textLength="3.42" lengthAdjust="spacingAndGlyphs">t</tspan><tspan x="317.94" textLength="6.33" lengthAdjust="spacingAndGlyphs">e</tspan><tspan x="324.28" textLength="6.69" lengthAdjust="spacingAndGlyphs">d</tspan><tspan x="333.84" textLength="5.38" lengthAdjust="spacingAndGlyphs">c</tspan><tspan x="339.22" textLength="6.33" lengthAdjust="spacingAndGlyphs">e</tspan><tspan x="345.65" textLength="2.73" lengthAdjust="spacingAndGlyphs">l</tspan><tspan x="348.57" textLength="2.73" lengthAdjust="spacingAndGlyphs">l</tspan><tspan x="354.27" textLength="6.69" lengthAdjust="spacingAndGlyphs">n</tspan><tspan x="360.96" textLength="6.69" lengthAdjust="spacingAndGlyphs">u</tspan><tspan x="367.64" textLength="10.17" lengthAdjust="spacingAndGlyphs">m</tspan><tspan x="377.81" textLength="6.69" lengthAdjust="spacingAndGlyphs">b</tspan><tspan x="384.49" textLength="6.33" lengthAdjust="spacingAndGlyphs">e</tspan><tspan x="391.00" textLength="4.09" lengthAdjust="spacingAndGlyphs">r</tspan><tspan x="398.14" textLength="3.86" lengthAdjust="spacingAndGlyphs">(</tspan><tspan x="402.75" textLength="3.42" lengthAdjust="spacingAndGlyphs">/</tspan><tspan x="409.90" textLength="8.88" lengthAdjust="spacingAndGlyphs">w</tspan><tspan x="418.89" textLength="6.33" lengthAdjust="spacingAndGlyphs">e</tspan><tspan x="425.31" textLength="2.73" lengthAdjust="spacingAndGlyphs">l</tspan><tspan x="428.23" textLength="2.73" lengthAdjust="spacingAndGlyphs">l</tspan><tspan x="431.06" textLength="3.86" lengthAdjust="spacingAndGlyphs">)</tspan></text>
<text transform="translate(251.00 465.10) rotate(-90)" y="0.00" font-size="12.20" fill="#111"><tspan x="-0.81" textLength="10.21" lengthAdjust="spacingAndGlyphs">m</tspan><tspan x="9.40" textLength="6.36" lengthAdjust="spacingAndGlyphs">e</tspan><tspan x="15.76" textLength="6.72" lengthAdjust="spacingAndGlyphs">d</tspan><tspan x="22.51" textLength="2.87" lengthAdjust="spacingAndGlyphs">i</tspan><tspan x="25.41" textLength="6.72" lengthAdjust="spacingAndGlyphs">u</tspan><tspan x="32.13" textLength="10.21" lengthAdjust="spacingAndGlyphs">m</tspan><tspan x="45.23" textLength="10.21" lengthAdjust="spacingAndGlyphs">m</tspan><tspan x="55.47" textLength="2.87" lengthAdjust="spacingAndGlyphs">i</tspan><tspan x="58.37" textLength="6.94" lengthAdjust="spacingAndGlyphs">R</tspan><tspan x="65.31" textLength="3.91" lengthAdjust="spacingAndGlyphs">-</tspan><tspan x="69.23" textLength="6.48" lengthAdjust="spacingAndGlyphs">1</tspan><tspan x="75.71" textLength="6.48" lengthAdjust="spacingAndGlyphs">8</tspan><tspan x="82.19" textLength="6.12" lengthAdjust="spacingAndGlyphs">a</tspan><tspan x="91.20" textLength="5.41" lengthAdjust="spacingAndGlyphs">c</tspan><tspan x="96.61" textLength="6.74" lengthAdjust="spacingAndGlyphs">o</tspan><tspan x="103.35" textLength="6.72" lengthAdjust="spacingAndGlyphs">n</tspan><tspan x="110.06" textLength="5.41" lengthAdjust="spacingAndGlyphs">c</tspan><tspan x="115.47" textLength="6.36" lengthAdjust="spacingAndGlyphs">e</tspan><tspan x="121.83" textLength="6.72" lengthAdjust="spacingAndGlyphs">n</tspan><tspan x="128.89" textLength="3.59" lengthAdjust="spacingAndGlyphs">t</tspan><tspan x="132.90" textLength="4.31" lengthAdjust="spacingAndGlyphs">r</tspan><tspan x="137.28" textLength="6.12" lengthAdjust="spacingAndGlyphs">a</tspan><tspan x="143.75" textLength="3.59" lengthAdjust="spacingAndGlyphs">t</tspan><tspan x="147.72" textLength="2.87" lengthAdjust="spacingAndGlyphs">i</tspan><tspan x="150.62" textLength="6.74" lengthAdjust="spacingAndGlyphs">o</tspan><tspan x="157.36" textLength="6.72" lengthAdjust="spacingAndGlyphs">n</tspan><tspan x="166.97" textLength="3.88" lengthAdjust="spacingAndGlyphs">(</tspan><tspan x="170.85" textLength="6.12" lengthAdjust="spacingAndGlyphs">a</tspan><tspan x="176.97" textLength="10.21" lengthAdjust="spacingAndGlyphs">m</tspan><tspan x="187.18" textLength="6.74" lengthAdjust="spacingAndGlyphs">o</tspan><tspan x="193.95" textLength="2.87" lengthAdjust="spacingAndGlyphs">l</tspan><tspan x="197.53" textLength="3.59" lengthAdjust="spacingAndGlyphs">/</tspan><tspan x="201.80" textLength="6.72" lengthAdjust="spacingAndGlyphs">μ</tspan><tspan x="208.54" textLength="2.87" lengthAdjust="spacingAndGlyphs">l</tspan><tspan x="211.45" textLength="3.88" lengthAdjust="spacingAndGlyphs">)</tspan></text>
<line x1="284.40" y1="431.61" x2="428.40" y2="319.71" stroke="#000" stroke-width="1.20"/>
<circle cx="284.40" cy="420.45" r="3.10" fill="#000"/>
<circle cx="284.40" cy="428.49" r="3.10" fill="#000"/>
<circle cx="332.40" cy="397.77" r="3.10" fill="#000"/>
<circle cx="332.40" cy="413.13" r="3.10" fill="#000"/>
<circle cx="428.40" cy="291.69" r="3.10" fill="#000"/>
<circle cx="428.40" cy="339.24" r="3.10" fill="#000"/>
<rect x="288.70" y="263.40" width="106.30" height="42.60" fill="#fff" stroke="#444" stroke-width="1.40"/>
<text y="275.90" font-size="10.80" fill="#111"><tspan x="294.28" textLength="4.99" lengthAdjust="spacingAndGlyphs">y</tspan><tspan x="301.76" textLength="5.59" lengthAdjust="spacingAndGlyphs">=</tspan><tspan x="309.85" textLength="5.59" lengthAdjust="spacingAndGlyphs">0</tspan><tspan x="315.44" textLength="2.79" lengthAdjust="spacingAndGlyphs">.</tspan><tspan x="318.23" textLength="5.59" lengthAdjust="spacingAndGlyphs">0</tspan><tspan x="323.82" textLength="5.59" lengthAdjust="spacingAndGlyphs">0</tspan><tspan x="329.41" textLength="5.59" lengthAdjust="spacingAndGlyphs">0</tspan><tspan x="335.00" textLength="5.59" lengthAdjust="spacingAndGlyphs">0</tspan><tspan x="340.60" textLength="5.59" lengthAdjust="spacingAndGlyphs">5</tspan><tspan x="346.19" textLength="4.78" lengthAdjust="spacingAndGlyphs">x</tspan><tspan x="353.46" textLength="5.59" lengthAdjust="spacingAndGlyphs">+</tspan><tspan x="361.55" textLength="5.59" lengthAdjust="spacingAndGlyphs">0</tspan><tspan x="367.14" textLength="2.79" lengthAdjust="spacingAndGlyphs">.</tspan><tspan x="369.93" textLength="5.59" lengthAdjust="spacingAndGlyphs">1</tspan><tspan x="375.52" textLength="5.59" lengthAdjust="spacingAndGlyphs">1</tspan><tspan x="381.11" textLength="5.59" lengthAdjust="spacingAndGlyphs">7</tspan><tspan x="386.70" textLength="5.59" lengthAdjust="spacingAndGlyphs">4</tspan></text>
<text y="288.70" font-size="10.80" fill="#111"><tspan x="316.09" textLength="6.08" lengthAdjust="spacingAndGlyphs">R</tspan><tspan x="322.15" textLength="3.80" lengthAdjust="spacingAndGlyphs">²</tspan><tspan x="328.45" textLength="5.63" lengthAdjust="spacingAndGlyphs">=</tspan><tspan x="336.59" textLength="5.63" lengthAdjust="spacingAndGlyphs">0</tspan><tspan x="342.22" textLength="2.80" lengthAdjust="spacingAndGlyphs">.</tspan><tspan x="345.03" textLength="5.63" lengthAdjust="spacingAndGlyphs">8</tspan><tspan x="350.66" textLength="5.63" lengthAdjust="spacingAndGlyphs">9</tspan><tspan x="356.29" textLength="5.63" lengthAdjust="spacingAndGlyphs">1</tspan><tspan x="361.92" textLength="5.63" lengthAdjust="spacingAndGlyphs">6</tspan></text>
<text y="302.00" font-size="10.80" fill="#111"><tspan x="318.00" textLength="5.71" lengthAdjust="spacingAndGlyphs">P</tspan><tspan x="326.21" textLength="5.61" lengthAdjust="spacingAndGlyphs">=</tspan><tspan x="334.32" textLength="5.61" lengthAdjust="spacingAndGlyphs">0</tspan><tspan x="339.92" textLength="2.79" lengthAdjust="spacingAndGlyphs">.</tspan><tspan x="342.72" textLength="5.61" lengthAdjust="spacingAndGlyphs">0</tspan><tspan x="348.32" textLength="5.61" lengthAdjust="spacingAndGlyphs">0</tspan><tspan x="353.93" textLength="5.61" lengthAdjust="spacingAndGlyphs">2</tspan><tspan x="359.53" textLength="5.61" lengthAdjust="spacingAndGlyphs">8</tspan></text>
<rect x="409.80" y="412.80" width="39.50" height="25.30" fill="#fff" stroke="#444" stroke-width="1.20"/>
<text y="430.50" font-size="14.30" fill="#111"><tspan x="418.10" textLength="7.58" lengthAdjust="spacingAndGlyphs">7</tspan><tspan x="425.68" textLength="7.58" lengthAdjust="spacingAndGlyphs">2</tspan><tspan x="433.26" textLength="7.86" lengthAdjust="spacingAndGlyphs">h</tspan></text>
<rect x="514.70" y="256.90" width="168.60" height="183.50" fill="#e5e5e5" stroke="none" stroke-width="1.00"/>
<line x1="514.70" y1="409.82" x2="683.30" y2="409.82" stroke="#9c9c9c" stroke-width="1.50"/>
<line x1="514.70" y1="379.23" x2="683.30" y2="379.23" stroke="#9c9c9c" stroke-width="1.50"/>
<line x1="514.70" y1="348.65" x2="683.30" y2="348.65" stroke="#9c9c9c" stroke-width="1.50"/>
<line x1="514.70" y1="318.07" x2="683.30" y2="318.07" stroke="#9c9c9c" stroke-width="1.50"/>
<line x1="514.70" y1="287.48" x2="683.30" y2="287.48" stroke="#9c9c9c" stroke-width="1.50"/>
<line x1="514.70" y1="256.90" x2="683.30" y2="256.90" stroke="#9c9c9c" stroke-width="1.50"/>
<line x1="514.70" y1="256.40" x2="514.70" y2="444.90" stroke="#333" stroke-width="1.10"/>
<line x1="510.50" y1="440.40" x2="683.30" y2="440.40" stroke="#555" stroke-width="1.30"/>
<line x1="510.50" y1="440.40" x2="514.70" y2="440.40" stroke="#333" stroke-width="1.10"/>
<line x1="510.50" y1="409.82" x2="514.70" y2="409.82" stroke="#333" stroke-width="1.10"/>
<line x1="510.50" y1="379.23" x2="514.70" y2="379.23" stroke="#333" stroke-width="1.10"/>
<line x1="510.50" y1="348.65" x2="514.70" y2="348.65" stroke="#333" stroke-width="1.10"/>
<line x1="510.50" y1="318.07" x2="514.70" y2="318.07" stroke="#333" stroke-width="1.10"/>
<line x1="510.50" y1="287.48" x2="514.70" y2="287.48" stroke="#333" stroke-width="1.10"/>
<line x1="510.50" y1="256.90" x2="514.70" y2="256.90" stroke="#333" stroke-width="1.10"/>
<line x1="562.70" y1="440.40" x2="562.70" y2="444.90" stroke="#333" stroke-width="1.10"/>
<line x1="610.70" y1="440.40" x2="610.70" y2="444.90" stroke="#333" stroke-width="1.10"/>
<line x1="658.70" y1="440.40" x2="658.70" y2="444.90" stroke="#333" stroke-width="1.10"/>
<text y="444.50" font-size="12.00" fill="#111"><tspan x="496.91" textLength="6.34" lengthAdjust="spacingAndGlyphs">0</tspan></text>
<text y="413.92" font-size="12.00" fill="#111"><tspan x="487.43" textLength="6.34" lengthAdjust="spacingAndGlyphs">0</tspan><tspan x="493.78" textLength="3.16" lengthAdjust="spacingAndGlyphs">.</tspan><tspan x="496.93" textLength="6.34" lengthAdjust="spacingAndGlyphs">5</tspan></text>
<text y="383.33" font-size="12.00" fill="#111"><tspan x="497.02" textLength="6.34" lengthAdjust="spacingAndGlyphs">1</tspan></text>
<text y="352.75" font-size="12.00" fill="#111"><tspan x="487.43" textLength="6.34" lengthAdjust="spacingAndGlyphs">1</tspan><tspan x="493.77" textLength="3.16" lengthAdjust="spacingAndGlyphs">.</tspan><tspan x="496.93" textLength="6.34" lengthAdjust="spacingAndGlyphs">5</tspan></text>
<text y="322.17" font-size="12.00" fill="#111"><tspan x="497.03" textLength="6.34" lengthAdjust="spacingAndGlyphs">2</tspan></text>
<text y="291.58" font-size="12.00" fill="#111"><tspan x="487.43" textLength="6.34" lengthAdjust="spacingAndGlyphs">2</tspan><tspan x="493.77" textLength="3.16" lengthAdjust="spacingAndGlyphs">.</tspan><tspan x="496.93" textLength="6.34" lengthAdjust="spacingAndGlyphs">5</tspan></text>
<text y="261.00" font-size="12.00" fill="#111"><tspan x="496.96" textLength="6.34" lengthAdjust="spacingAndGlyphs">3</tspan></text>
<text y="460.90" font-size="12.00" fill="#111"><tspan x="511.83" textLength="6.75" lengthAdjust="spacingAndGlyphs">0</tspan></text>
<text y="460.90" font-size="12.00" fill="#111"><tspan x="547.03" textLength="6.38" lengthAdjust="spacingAndGlyphs">1</tspan><tspan x="553.41" textLength="6.38" lengthAdjust="spacingAndGlyphs">0</tspan><tspan x="559.79" textLength="6.38" lengthAdjust="spacingAndGlyphs">0</tspan><tspan x="566.18" textLength="6.38" lengthAdjust="spacingAndGlyphs">0</tspan><tspan x="572.56" textLength="6.38" lengthAdjust="spacingAndGlyphs">0</tspan></text>
<text y="460.90" font-size="12.00" fill="#111"><tspan x="595.33" textLength="6.32" lengthAdjust="spacingAndGlyphs">2</tspan><tspan x="601.65" textLength="6.32" lengthAdjust="spacingAndGlyphs">0</tspan><tspan x="607.97" textLength="6.32" lengthAdjust="spacingAndGlyphs">0</tspan><tspan x="614.30" textLength="6.32" lengthAdjust="spacingAndGlyphs">0</tspan><tspan x="620.62" textLength="6.32" lengthAdjust="spacingAndGlyphs">0</tspan></text>
<text y="460.90" font-size="12.00" fill="#111"><tspan x="643.47" textLength="6.29" lengthAdjust="spacingAndGlyphs">3</tspan><tspan x="649.76" textLength="6.29" lengthAdjust="spacingAndGlyphs">0</tspan><tspan x="656.06" textLength="6.29" lengthAdjust="spacingAndGlyphs">0</tspan><tspan x="662.35" textLength="6.29" lengthAdjust="spacingAndGlyphs">0</tspan><tspan x="668.65" textLength="6.29" lengthAdjust="spacingAndGlyphs">0</tspan></text>
<text y="475.50" font-size="11.60" fill="#111"><tspan x="536.29" textLength="6.62" lengthAdjust="spacingAndGlyphs">P</tspan><tspan x="543.01" textLength="2.73" lengthAdjust="spacingAndGlyphs">l</tspan><tspan x="545.85" textLength="6.14" lengthAdjust="spacingAndGlyphs">a</tspan><tspan x="552.43" textLength="3.42" lengthAdjust="spacingAndGlyphs">t</tspan><tspan x="556.29" textLength="6.38" lengthAdjust="spacingAndGlyphs">e</tspan><tspan x="562.66" textLength="6.74" lengthAdjust="spacingAndGlyphs">d</tspan><tspan x="572.30" textLength="5.42" lengthAdjust="spacingAndGlyphs">c</tspan><tspan x="577.72" textLength="6.38" lengthAdjust="spacingAndGlyphs">e</tspan><tspan x="584.20" textLength="2.73" lengthAdjust="spacingAndGlyphs">l</tspan><tspan x="587.14" textLength="2.73" lengthAdjust="spacingAndGlyphs">l</tspan><tspan x="592.88" textLength="6.74" lengthAdjust="spacingAndGlyphs">n</tspan><tspan x="599.61" textLength="6.74" lengthAdjust="spacingAndGlyphs">u</tspan><tspan x="606.35" textLength="10.24" lengthAdjust="spacingAndGlyphs">m</tspan><tspan x="616.59" textLength="6.74" lengthAdjust="spacingAndGlyphs">b</tspan><tspan x="623.33" textLength="6.38" lengthAdjust="spacingAndGlyphs">e</tspan><tspan x="629.89" textLength="4.09" lengthAdjust="spacingAndGlyphs">r</tspan><tspan x="637.07" textLength="3.89" lengthAdjust="spacingAndGlyphs">(</tspan><tspan x="641.73" textLength="3.42" lengthAdjust="spacingAndGlyphs">/</tspan><tspan x="648.95" textLength="8.88" lengthAdjust="spacingAndGlyphs">w</tspan><tspan x="657.97" textLength="6.38" lengthAdjust="spacingAndGlyphs">e</tspan><tspan x="664.46" textLength="2.73" lengthAdjust="spacingAndGlyphs">l</tspan><tspan x="667.40" textLength="2.73" lengthAdjust="spacingAndGlyphs">l</tspan><tspan x="670.24" textLength="3.89" lengthAdjust="spacingAndGlyphs">)</tspan></text>
<text transform="translate(481.80 465.10) rotate(-90)" y="0.00" font-size="12.20" fill="#111"><tspan x="-0.81" textLength="10.21" lengthAdjust="spacingAndGlyphs">m</tspan><tspan x="9.40" textLength="6.36" lengthAdjust="spacingAndGlyphs">e</tspan><tspan x="15.76" textLength="6.72" lengthAdjust="spacingAndGlyphs">d</tspan><tspan x="22.51" textLength="2.87" lengthAdjust="spacingAndGlyphs">i</tspan><tspan x="25.41" textLength="6.72" lengthAdjust="spacingAndGlyphs">u</tspan><tspan x="32.13" textLength="10.21" lengthAdjust="spacingAndGlyphs">m</tspan><tspan x="45.23" textLength="10.21" lengthAdjust="spacingAndGlyphs">m</tspan><tspan x="55.47" textLength="2.87" lengthAdjust="spacingAndGlyphs">i</tspan><tspan x="58.37" textLength="6.94" lengthAdjust="spacingAndGlyphs">R</tspan><tspan x="65.31" textLength="3.91" lengthAdjust="spacingAndGlyphs">-</tspan><tspan x="69.23" textLength="6.48" lengthAdjust="spacingAndGlyphs">1</tspan><tspan x="75.71" textLength="6.48" lengthAdjust="spacingAndGlyphs">8</tspan><tspan x="82.19" textLength="6.12" lengthAdjust="spacingAndGlyphs">a</tspan><tspan x="91.20" textLength="5.41" lengthAdjust="spacingAndGlyphs">c</tspan><tspan x="96.61" textLength="6.74" lengthAdjust="spacingAndGlyphs">o</tspan><tspan x="103.35" textLength="6.72" lengthAdjust="spacingAndGlyphs">n</tspan><tspan x="110.06" textLength="5.41" lengthAdjust="spacingAndGlyphs">c</tspan><tspan x="115.47" textLength="6.36" lengthAdjust="spacingAndGlyphs">e</tspan><tspan x="121.83" textLength="6.72" lengthAdjust="spacingAndGlyphs">n</tspan><tspan x="128.89" textLength="3.59" lengthAdjust="spacingAndGlyphs">t</tspan><tspan x="132.90" textLength="4.31" lengthAdjust="spacingAndGlyphs">r</tspan><tspan x="137.28" textLength="6.12" lengthAdjust="spacingAndGlyphs">a</tspan><tspan x="143.75" textLength="3.59" lengthAdjust="spacingAndGlyphs">t</tspan><tspan x="147.72" textLength="2.87" lengthAdjust="spacingAndGlyphs">i</tspan><tspan x="150.62" textLength="6.74" lengthAdjust="spacingAndGlyphs">o</tspan><tspan x="157.36" textLength="6.72" lengthAdjust="spacingAndGlyphs">n</tspan><tspan x="166.97" textLength="3.88" lengthAdjust="spacingAndGlyphs">(</tspan><tspan x="170.85" textLength="6.12" lengthAdjust="spacingAndGlyphs">a</tspan><tspan x="176.97" textLength="10.21" lengthAdjust="spacingAndGlyphs">m</tspan><tspan x="187.18" textLength="6.74" lengthAdjust="spacingAndGlyphs">o</tspan><tspan x="193.95" textLength="2.87" lengthAdjust="spacingAndGlyphs">l</tspan><tspan x="197.53" textLength="3.59" lengthAdjust="spacingAndGlyphs">/</tspan><tspan x="201.80" textLength="6.72" lengthAdjust="spacingAndGlyphs">μ</tspan><tspan x="208.54" textLength="2.87" lengthAdjust="spacingAndGlyphs">l</tspan><tspan x="211.45" textLength="3.88" lengthAdjust="spacingAndGlyphs">)</tspan></text>
<line x1="514.70" y1="421.47" x2="658.70" y2="342.11" stroke="#000" stroke-width="1.20"/>
<circle cx="514.70" cy="418.38" r="3.10" fill="#000"/>
<circle cx="514.70" cy="433.06" r="3.10" fill="#000"/>
<circle cx="562.70" cy="376.17" r="3.10" fill="#000"/>
<circle cx="562.70" cy="401.25" r="3.10" fill="#000"/>
<circle cx="658.70" cy="286.26" r="3.10" fill="#000"/>
<circle cx="658.70" cy="403.09" r="3.10" fill="#000"/>
<rect x="519.70" y="263.40" width="106.50" height="42.60" fill="#fff" stroke="#444" stroke-width="1.40"/>
<text y="275.90" font-size="10.80" fill="#111"><tspan x="525.28" textLength="5.00" lengthAdjust="spacingAndGlyphs">y</tspan><tspan x="532.77" textLength="5.60" lengthAdjust="spacingAndGlyphs">=</tspan><tspan x="540.87" textLength="5.60" lengthAdjust="spacingAndGlyphs">0</tspan><tspan x="546.47" textLength="2.79" lengthAdjust="spacingAndGlyphs">.</tspan><tspan x="549.26" textLength="5.60" lengthAdjust="spacingAndGlyphs">0</tspan><tspan x="554.86" textLength="5.60" lengthAdjust="spacingAndGlyphs">0</tspan><tspan x="560.46" textLength="5.60" lengthAdjust="spacingAndGlyphs">0</tspan><tspan x="566.06" textLength="5.60" lengthAdjust="spacingAndGlyphs">0</tspan><tspan x="571.66" textLength="5.60" lengthAdjust="spacingAndGlyphs">4</tspan><tspan x="577.26" textLength="4.78" lengthAdjust="spacingAndGlyphs">x</tspan><tspan x="584.54" textLength="5.60" lengthAdjust="spacingAndGlyphs">+</tspan><tspan x="592.64" textLength="5.60" lengthAdjust="spacingAndGlyphs">0</tspan><tspan x="598.24" textLength="2.79" lengthAdjust="spacingAndGlyphs">.</tspan><tspan x="601.02" textLength="5.60" lengthAdjust="spacingAndGlyphs">3</tspan><tspan x="606.62" textLength="5.60" lengthAdjust="spacingAndGlyphs">0</tspan><tspan x="612.22" textLength="5.60" lengthAdjust="spacingAndGlyphs">9</tspan><tspan x="617.82" textLength="5.60" lengthAdjust="spacingAndGlyphs">5</tspan></text>
<text y="288.70" font-size="10.80" fill="#111"><tspan x="547.09" textLength="6.08" lengthAdjust="spacingAndGlyphs">R</tspan><tspan x="553.15" textLength="3.80" lengthAdjust="spacingAndGlyphs">²</tspan><tspan x="559.45" textLength="5.63" lengthAdjust="spacingAndGlyphs">=</tspan><tspan x="567.59" textLength="5.63" lengthAdjust="spacingAndGlyphs">0</tspan><tspan x="573.22" textLength="2.80" lengthAdjust="spacingAndGlyphs">.</tspan><tspan x="576.03" textLength="5.63" lengthAdjust="spacingAndGlyphs">4</tspan><tspan x="581.66" textLength="5.63" lengthAdjust="spacingAndGlyphs">6</tspan><tspan x="587.29" textLength="5.63" lengthAdjust="spacingAndGlyphs">9</tspan><tspan x="592.92" textLength="5.63" lengthAdjust="spacingAndGlyphs">3</tspan></text>
<text y="302.00" font-size="10.80" fill="#111"><tspan x="549.00" textLength="5.72" lengthAdjust="spacingAndGlyphs">P</tspan><tspan x="557.22" textLength="5.61" lengthAdjust="spacingAndGlyphs">=</tspan><tspan x="565.34" textLength="5.61" lengthAdjust="spacingAndGlyphs">0</tspan><tspan x="570.96" textLength="2.80" lengthAdjust="spacingAndGlyphs">.</tspan><tspan x="573.75" textLength="5.61" lengthAdjust="spacingAndGlyphs">1</tspan><tspan x="579.37" textLength="5.61" lengthAdjust="spacingAndGlyphs">0</tspan><tspan x="584.98" textLength="5.61" lengthAdjust="spacingAndGlyphs">8</tspan><tspan x="590.59" textLength="5.61" lengthAdjust="spacingAndGlyphs">7</tspan></text>
<rect x="640.40" y="412.80" width="38.90" height="25.30" fill="#fff" stroke="#444" stroke-width="1.20"/>
<text y="430.50" font-size="14.30" fill="#111"><tspan x="648.76" textLength="7.56" lengthAdjust="spacingAndGlyphs">9</tspan><tspan x="656.32" textLength="7.56" lengthAdjust="spacingAndGlyphs">6</tspan><tspan x="663.88" textLength="7.84" lengthAdjust="spacingAndGlyphs">h</tspan></text>
</svg>
</body></html>
